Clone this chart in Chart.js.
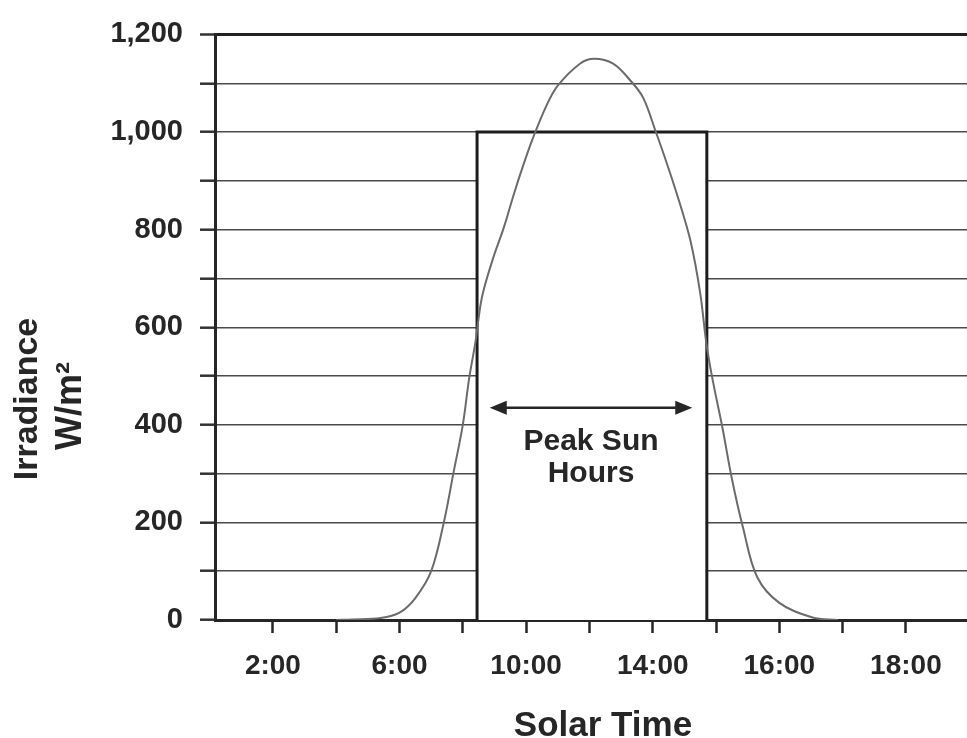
<!DOCTYPE html>
<html>
<head>
<meta charset="utf-8">
<script src="https://cdn.jsdelivr.net/npm/chart.js@4.4.1/dist/chart.umd.min.js"></script>
<style>
  html, body { margin: 0; padding: 0; background: #fff; }
</style>
</head>
<body>
<canvas id="chart" width="967" height="738"></canvas>
<script>
// solar hour vs irradiance (W/m²)
const solarHours = [4.0, 4.5, 5.4, 6.0, 6.5, 7.0, 7.4, 7.7, 8.0, 8.2, 8.4, 8.6, 8.95, 9.3, 9.6, 9.9, 10.2, 10.65, 11.0, 11.7, 12.15, 12.75, 13.3, 13.7, 14.1, 14.45, 14.85, 15.2, 15.5, 15.7, 15.9, 16.2, 16.5, 16.85, 17.3, 18.0, 19.05, 19.85];
const irradiance = [0, 1, 4, 15, 45, 100, 200, 300, 400, 495, 570, 660, 740, 805, 870, 930, 985, 1055, 1095, 1140, 1150, 1140, 1105, 1070, 1000, 935, 855, 775, 670, 565, 490, 395, 290, 190, 88, 35, 5, 0];

// peak sun hours box
const peakHours = [8.45, 15.71];
const peakLevel = 1000;

// axes
const xTickValues = [2, 4, 6, 8, 10, 12, 14, 16, 18, 20, 22];
const xTickLabels = ["2:00", "", "6:00", "", "10:00", "", "14:00", "", "16:00", "", "18:00"];
const yTickLabels = { 0: "0", 200: "200", 400: "400", 600: "600", 800: "800", 1000: "1,000", 1200: "1,200" };

const ink = "#262626";
const font = "'Liberation Sans', Arial, sans-serif";

const boxPoints = [
  { x: peakHours[0], y: 0 },
  { x: peakHours[0], y: peakLevel },
  { x: peakHours[1], y: peakLevel },
  { x: peakHours[1], y: 0 }
];

// arrow + label inside the box, plus the two axis titles
const notes = {
  id: "notes",
  afterDraw(chart) {
    const { ctx, scales: { x, y } } = chart;
    const x1 = x.getPixelForValue(8.85);
    const x2 = x.getPixelForValue(15.25);
    const ay = y.getPixelForValue(435);

    ctx.save();
    ctx.strokeStyle = ink;
    ctx.fillStyle = ink;
    ctx.lineWidth = 2.5;
    ctx.beginPath();
    ctx.moveTo(x1 + 8, ay);
    ctx.lineTo(x2 - 8, ay);
    ctx.stroke();
    [[x1, 1], [x2, -1]].forEach(([px, dir]) => {
      ctx.beginPath();
      ctx.moveTo(px, ay);
      ctx.lineTo(px + dir * 17, ay - 7);
      ctx.lineTo(px + dir * 17, ay + 7);
      ctx.closePath();
      ctx.fill();
    });

    ctx.textAlign = "center";
    ctx.textBaseline = "middle";
    ctx.font = `bold 30px ${font}`;
    const tx = x.getPixelForValue(12.05);
    ctx.fillText("Peak Sun", tx, y.getPixelForValue(366));
    ctx.fillText("Hours", tx, y.getPixelForValue(300));

    ctx.font = `bold 35px ${font}`;
    ctx.fillText("Solar Time", 603, 726);

    ctx.translate(28, 399);
    ctx.rotate(-Math.PI / 2);
    ctx.font = `bold 34px ${font}`;
    ctx.fillText("Irradiance", 0, 0);
    ctx.font = `bold 36px ${font}`;
    ctx.fillText("W/m²", -7, 43);
    ctx.restore();
  }
};

new Chart(document.getElementById("chart"), {
  type: "line",
  data: {
    datasets: [
      {
        data: solarHours.map((h, i) => ({ x: h, y: irradiance[i] })),
        borderColor: "#6b6b6b",
        borderWidth: 2,
        pointRadius: 0,
        tension: 0.35,
        fill: false,
        order: 1
      },
      {
        data: boxPoints,
        borderColor: "#1c1c1c",
        borderWidth: 3,
        backgroundColor: "#ffffff",
        pointRadius: 0,
        tension: 0,
        fill: "origin",
        order: 2
      }
    ]
  },
  options: {
    responsive: false,
    animation: false,
    events: [],
    layout: { padding: { top: 33, right: 0, bottom: 0, left: 0 } },
    plugins: {
      legend: { display: false },
      tooltip: { enabled: false }
    },
    scales: {
      x: {
        type: "linear",
        min: 0.17,
        max: 23.93,
        z: 1,
        afterFit: (scale) => { scale.height = 118; },
        afterBuildTicks: (scale) => { scale.ticks = xTickValues.map((v) => ({ value: v })); },
        border: { display: true, color: ink, width: 3 },
        grid: { drawOnChartArea: false, drawTicks: true, tickLength: 13, tickWidth: 2.5, tickColor: ink },
        ticks: {
          autoSkip: false,
          maxRotation: 0,
          padding: 16,
          color: ink,
          font: { family: font, size: 28, weight: "bold" },
          callback: (value) => xTickLabels[xTickValues.indexOf(value)] ?? ""
        }
      },
      y: {
        min: 0,
        max: 1200,
        afterFit: (scale) => { scale.width = 215; },
        border: { display: true, color: ink, width: 3 },
        grid: {
          color: (ctx) => (ctx.tick && ctx.tick.value === 1200 ? "#222" : "#4a4a4a"),
          lineWidth: (ctx) => (ctx.tick && ctx.tick.value === 1200 ? 3 : 1.4),
          tickLength: 15,
          tickColor: "#333",
          tickWidth: 2.5
        },
        ticks: {
          stepSize: 100,
          padding: 17,
          color: ink,
          font: { family: font, size: 29, weight: "bold" },
          callback: (value) => yTickLabels[value] ?? ""
        }
      }
    }
  },
  plugins: [notes]
});
</script>
</body>
</html>
